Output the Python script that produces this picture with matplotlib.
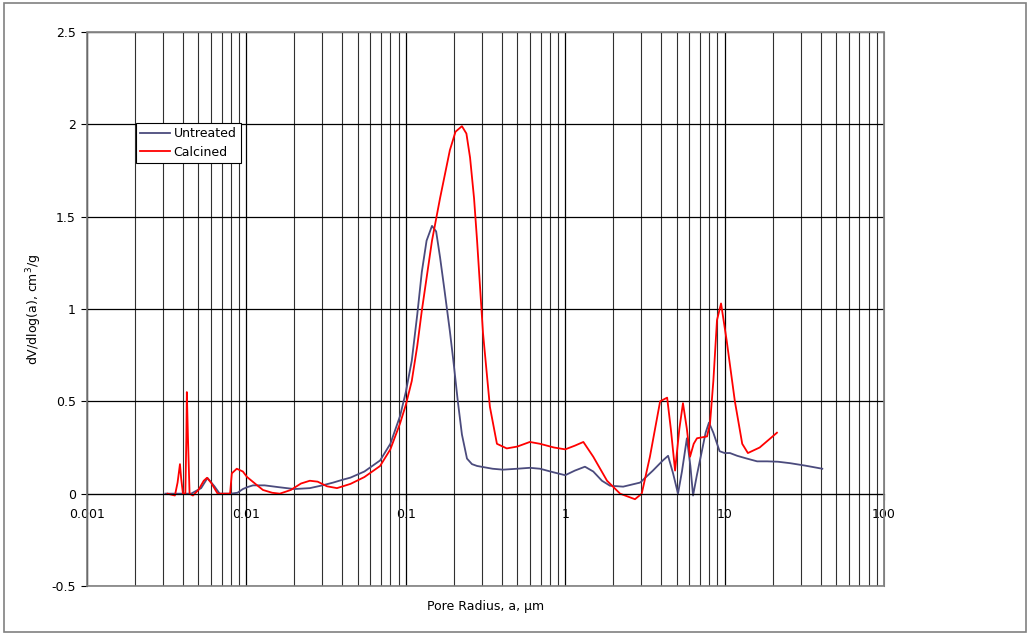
import numpy as np
import matplotlib
matplotlib.use('Agg')
import matplotlib.pyplot as plt
from matplotlib.ticker import LogLocator, FixedLocator, NullFormatter
from matplotlib.patches import Rectangle

# pore radius (um) and dV/dlog(a)
untreated_x = [0.0031, 0.0035, 0.0045, 0.0052, 0.0057, 0.0063, 0.0068, 0.0080, 0.0088, 0.0095,
               0.0101, 0.011, 0.013, 0.016, 0.02, 0.025, 0.03, 0.035, 0.04, 0.045,
               0.055, 0.069, 0.08, 0.092, 0.1, 0.109, 0.118, 0.126, 0.135, 0.146,
               0.155, 0.164, 0.175, 0.189, 0.2, 0.212, 0.225, 0.242, 0.26, 0.28,
               0.35, 0.407, 0.5, 0.6, 0.695, 0.85, 1.0, 1.15, 1.33, 1.5,
               1.7, 1.91, 2.31, 2.95, 3.55, 4.1, 4.42, 4.75, 5.1, 5.4,
               5.8, 6.1, 6.34, 6.7, 7.2, 7.6, 7.98, 8.5, 9.3, 10.0,
               10.8, 12, 13.8, 16, 18.5, 21.6, 25.8, 32, 41]
untreated_y = [0, 0, 0, 0.03, 0.085, 0.04, 0, 0, 0.005, 0.025,
               0.035, 0.045, 0.045, 0.035, 0.025, 0.03, 0.045, 0.06, 0.075, 0.087,
               0.12, 0.18, 0.27, 0.42, 0.55, 0.72, 0.97, 1.2, 1.37, 1.45,
               1.42, 1.28, 1.1, 0.88, 0.7, 0.5, 0.32, 0.19, 0.16, 0.15,
               0.135, 0.13, 0.135, 0.14, 0.135, 0.115, 0.10, 0.125, 0.146, 0.12,
               0.07, 0.043, 0.038, 0.06, 0.125, 0.18, 0.205, 0.11, 0.0, 0.12,
               0.3, 0.15, -0.01, 0.1, 0.23, 0.33, 0.385, 0.33, 0.23, 0.22,
               0.22, 0.205, 0.19, 0.175, 0.175, 0.173, 0.165, 0.152, 0.135]

calcined_x = [0.0032, 0.00356, 0.0037, 0.00383, 0.0039, 0.0040, 0.00414, 0.0042, 0.00423, 0.0043,
              0.0044, 0.00462, 0.005, 0.0054, 0.00566, 0.006, 0.0066, 0.0079, 0.0081, 0.0087,
              0.0095, 0.0101, 0.0115, 0.0127, 0.0145, 0.0162, 0.019, 0.022, 0.025, 0.028,
              0.032, 0.037, 0.045, 0.055, 0.069, 0.08, 0.092, 0.1, 0.109, 0.118,
              0.126, 0.146, 0.164, 0.189, 0.205, 0.225, 0.24, 0.253, 0.268, 0.28,
              0.305, 0.337, 0.373, 0.43, 0.5, 0.6, 0.695, 0.85, 1.0, 1.15,
              1.30, 1.5, 1.83, 2.21, 2.74, 3.02, 3.40, 3.94, 4.36, 4.6,
              4.89, 5.2, 5.48, 5.8, 6.07, 6.4, 6.71, 7.76, 8.10, 8.5,
              8.96, 9.5, 10.3, 11.6, 12.9, 14.0, 16.6, 21.3]
calcined_y = [0, -0.01, 0.06, 0.16, 0.08, 0, 0, 0.3, 0.55, 0.3,
              0, -0.01, 0.02, 0.07, 0.086, 0.06, 0, 0, 0.11, 0.135,
              0.12, 0.09, 0.05, 0.02, 0.005, 0, 0.02, 0.055, 0.07, 0.065,
              0.04, 0.03, 0.053, 0.09, 0.15, 0.24, 0.38, 0.48, 0.61, 0.8,
              0.99, 1.37, 1.60, 1.86, 1.96, 1.99, 1.95, 1.82, 1.6, 1.37,
              0.87, 0.47, 0.27, 0.245, 0.255, 0.28, 0.27, 0.25, 0.24, 0.26,
              0.28, 0.2, 0.07, 0, -0.03, 0, 0.2, 0.5, 0.52, 0.35,
              0.125, 0.35, 0.49, 0.35, 0.2, 0.27, 0.3, 0.31, 0.38, 0.61,
              0.94, 1.03, 0.83, 0.5, 0.27, 0.22, 0.25, 0.33]

x_ticks = [0.001, 0.01, 0.1, 1, 10, 100]
x_labels = ['0.001', '0.01', '0.1', '1', '10', '100']
y_ticks = [-0.5, 0, 0.5, 1, 1.5, 2, 2.5]
y_labels = ['-0.5', '0', '0.5', '1', '1.5', '2', '2.5']

fig = plt.figure(figsize=(10.29, 6.35), dpi=100)
ax = fig.add_axes([87 / 1029, 1 - 586 / 635, 797 / 1029, 554 / 635])

ax.set_xscale('log')
ax.set_xlim(0.001, 100)
ax.set_ylim(-0.5, 2.5)

# grid: every decade and sub-decade line, plus horizontal at 0.5 steps
ax.xaxis.set_major_locator(FixedLocator(x_ticks))
ax.xaxis.set_minor_locator(LogLocator(base=10, subs=np.arange(2, 10), numticks=20))
ax.xaxis.set_minor_formatter(NullFormatter())
ax.set_xticks(x_ticks)
ax.set_xticklabels(x_labels)
ax.set_yticks(y_ticks)
ax.set_yticklabels(y_labels)
ax.grid(True, which='major', axis='both', color='black', lw=0.9)
ax.grid(True, which='minor', axis='x', color='#303030', lw=0.8)
ax.set_axisbelow(True)

ax.plot(untreated_x, untreated_y, color='#4b4b7d', lw=1.3, label='Untreated')
ax.plot(calcined_x, calcined_y, color='#ff0000', lw=1.3, label='Calcined')

# Excel style: x axis crosses at y = 0
for s in ['top', 'right']:
    ax.spines[s].set_color('#808080')
ax.spines['bottom'].set_position(('data', 0))
ax.spines['bottom'].set_color('black')
ax.spines['left'].set_color('black')
ax.add_patch(Rectangle((0, 0), 1, 1, transform=ax.transAxes, fill=False,
                       edgecolor='#808080', lw=1.2, zorder=5, clip_on=False))

ax.tick_params(axis='x', which='major', direction='out', length=4, labelsize=9, pad=6)
ax.tick_params(axis='x', which='minor', length=0)
ax.tick_params(axis='y', direction='out', length=4, labelsize=9, pad=4)

ax.set_xlabel('Pore Radius, a, \u00b5m', fontsize=9)
ax.xaxis.set_label_coords(0.5, -0.025)
ax.set_ylabel('dV/dlog(a), cm$^3$/g', fontsize=9)
ax.yaxis.set_label_coords(-0.054, 0.5)

leg = ax.legend(loc='upper left', bbox_to_anchor=(0.061, 0.836), fontsize=9,
                frameon=True, fancybox=False, edgecolor='black', framealpha=1,
                borderpad=0.35, handlelength=2.4, handletextpad=0.3, labelspacing=0.45,
                borderaxespad=0)
leg.get_frame().set_linewidth(0.8)

# outer chart border
fig.add_artist(Rectangle((4 / 1029, 3 / 635), 1022 / 1029, 629 / 635, transform=fig.transFigure,
                         fill=False, edgecolor='#808080', lw=1.2))

fig.savefig('out.png', dpi=100)
